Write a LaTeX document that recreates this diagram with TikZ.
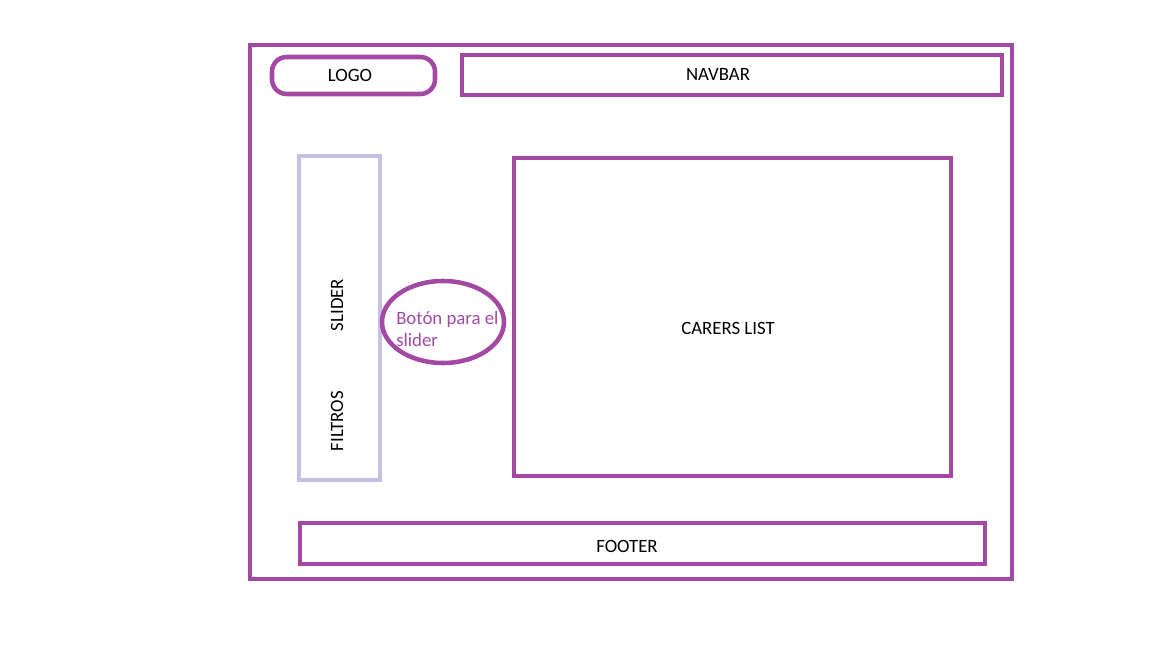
\documentclass[tikz,border=0pt]{standalone}
\usepackage{fontspec}
\setmainfont{Carlito}
\usepackage{xcolor}
\usepackage{tikz}
\usetikzlibrary{positioning, shapes.geometric}
\definecolor{paintpurple}  {RGB}{163, 73,  164}
\definecolor{paintlavender}{RGB}{200, 191, 231}
\tikzset{
  wireframe/.style={
    rectangle, draw=paintpurple, line width=3.4pt,
    inner sep=0pt, font=\fontsize{14.1}{16.5}\selectfont
  },
  wirelogo/.style={
    wireframe, rounded corners=11pt
  },
  wireslider/.style={
    rectangle, draw=paintlavender, line width=3.2pt, inner sep=0pt
  },
  wirebutton/.style={
    ellipse, draw=paintpurple, line width=3.4pt, inner sep=0pt
  },
  wirelabel/.style={
    font=\fontsize{14.1}{16.5}\selectfont, inner sep=0pt
  },
}

\begin{document}
\begin{tikzpicture}[x=0.75pt, y=-0.75pt]
  \useasboundingbox (0,0) rectangle (1152,648);

  % Page frame
  \node[wireframe, minimum width=571.5pt, minimum height=400.5pt] (page) at (631,312) {};

  % Header
  \node[wirelogo, minimum width=122.25pt, minimum height=27.75pt] (logo) at (353.5,75.5) {};
  \node[wirelabel] (logotext) at (350,75) {LOGO};
  \node[wireframe, minimum width=405pt, minimum height=30pt] (navbar) at (732,75) {};
  \node[wirelabel] (navbartext) at (718,74) {NAVBAR};

  % Slider with filters
  \node[wireslider, minimum width=60.75pt, minimum height=243pt] (slider) at (339.5,318) {};
  \node[wirelabel, rotate=90] (slidertext) at (337,305) {SLIDER};
  \node[wirelabel, rotate=90] (filtrostext) at (337,421) {FILTROS};
  \node[wirebutton, minimum width=91.5pt, minimum height=61.5pt] (button) at (443,322) {};
  \node[wirelabel, text=paintpurple, align=left, anchor=west] (buttontext) at (396,329)
       {Botón para el\\slider};

  % Main content
  \node[wireframe, minimum width=327.75pt, minimum height=238.5pt] (carers) at (732.5,317) {};
  \node[wirelabel] (carerstext) at (728,328) {CARERS LIST};

  % Footer
  \node[wireframe, minimum width=513.75pt, minimum height=30.75pt] (footer) at (642.5,543.5) {};
  \node[wirelabel] (footertext) at (627,546) {FOOTER};
\end{tikzpicture}
\end{document}
